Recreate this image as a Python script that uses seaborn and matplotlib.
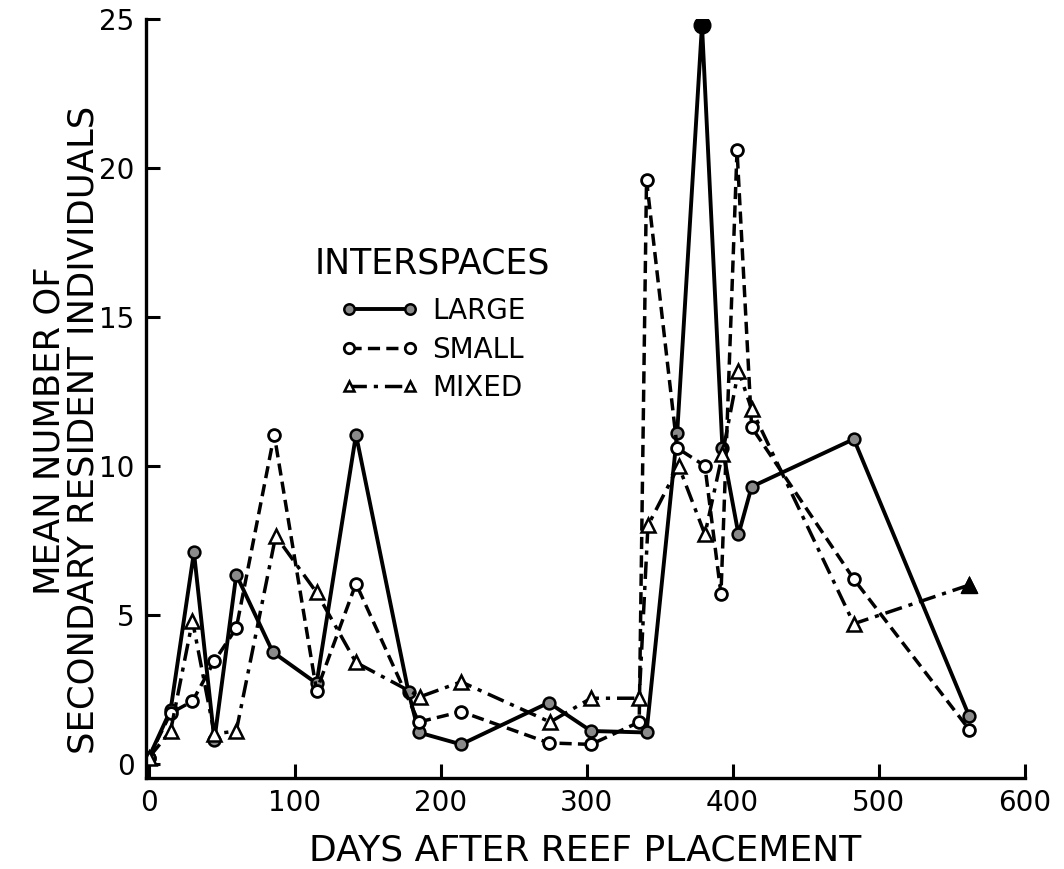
import matplotlib
matplotlib.use("Agg")
import matplotlib.pyplot as plt
from matplotlib.lines import Line2D
import seaborn as sns
import pandas as pd

# Secondary resident counts by interspace size
days_large = [0, 15, 31, 45, 60, 85, 115, 142, 178, 185, 214, 274, 303, 341, 362, 379, 393, 404, 413, 483, 562]
large = [0.2, 1.8, 7.1, 0.8, 6.35, 3.75, 2.7, 11.05, 2.4, 1.05, 0.65, 2.05, 1.1, 1.05, 11.1, 24.8, 10.6, 7.7, 9.3, 10.9, 1.6]

days_small = [0, 15, 30, 45, 60, 86, 115, 142, 185, 214, 274, 303, 336, 341, 362, 381, 392, 403, 413, 483, 562]
small = [0.2, 1.7, 2.1, 3.45, 4.55, 11.05, 2.45, 6.05, 1.4, 1.75, 0.7, 0.65, 1.4, 19.6, 10.6, 10.0, 5.7, 20.6, 11.3, 6.2, 1.15]

days_mixed = [0, 15, 30, 45, 60, 87, 115, 142, 186, 214, 275, 303, 336, 342, 363, 381, 393, 404, 413, 483, 562]
mixed = [0.2, 1.1, 4.8, 1.0, 1.1, 7.65, 5.75, 3.4, 2.25, 2.75, 1.4, 2.2, 2.2, 8.0, 10.0, 7.7, 10.4, 13.2, 11.9, 4.7, 6.0]

x_ticks = [0, 100, 200, 300, 400, 500, 600]
y_ticks = [0, 5, 10, 15, 20, 25]
series_names = ["LARGE", "SMALL", "MIXED"]

sns.set_style("ticks")
plt.rcParams["font.family"] = ["DejaVu Sans"]
plt.rcParams["text.color"] = "black"
plt.rcParams["axes.labelcolor"] = "black"

fig = plt.figure(figsize=(10.64, 8.69), dpi=100)
ax = fig.add_axes([0.137, 0.105, 0.826, 0.873])

ink = "black"
grey = "#8a8a8a"

df_large = pd.DataFrame({"day": days_large, "n": large})
df_small = pd.DataFrame({"day": days_small, "n": small})
df_mixed = pd.DataFrame({"day": days_mixed, "n": mixed})

style_large = dict(color=ink, lw=2.8, marker="o", markersize=8.5,
                   markerfacecolor=grey, markeredgecolor=ink, markeredgewidth=1.8)
style_small = dict(color=ink, lw=2.5, marker="o", markersize=8.5,
                   markerfacecolor="white", markeredgecolor=ink, markeredgewidth=2.0)
style_mixed = dict(color=ink, lw=2.5, marker="^", markersize=9.5,
                   markerfacecolor="white", markeredgecolor=ink, markeredgewidth=1.8)

sns.lineplot(data=df_large, x="day", y="n", ax=ax, estimator=None, sort=False,
             **style_large)
sns.lineplot(data=df_small, x="day", y="n", ax=ax, estimator=None, sort=False,
             **style_small)
sns.lineplot(data=df_mixed, x="day", y="n", ax=ax, estimator=None, sort=False,
             **style_mixed)

# dash patterns
dash_small = [3.5, 1.8]
dash_mixed = [5, 2, 1.2, 2]
ax.lines[1].set_dashes(dash_small)
ax.lines[2].set_dashes(dash_mixed)

# highlighted points: large peak and last mixed sample
ipk = large.index(max(large))
ax.plot([days_large[ipk]], [large[ipk]], marker="o", markersize=12,
        color=ink, linestyle="none", zorder=5)
ax.plot([days_mixed[-1]], [mixed[-1]], marker="^", markersize=12,
        color=ink, linestyle="none", zorder=5)

ax.set_xlim(-2, 600)
ax.set_ylim(-0.47, 25)
ax.set_xticks(x_ticks)
ax.set_yticks(y_ticks)
ax.tick_params(direction="in", length=10, width=2.2, labelsize=20, pad=8, colors=ink)
for side in ["top", "right"]:
    ax.spines[side].set_visible(False)
for side in ["left", "bottom"]:
    ax.spines[side].set_linewidth(2.4)
    ax.spines[side].set_color(ink)

ax.set_xlabel("DAYS AFTER REEF PLACEMENT", fontsize=26, labelpad=12)
ax.set_ylabel("MEAN NUMBER OF\nSECONDARY RESIDENT INDIVIDUALS", fontsize=25.5,
              linespacing=1.0)
ax.yaxis.set_label_coords(-0.052, 0.458)

handles = [
    Line2D([], [], **style_large),
    Line2D([], [], dashes=dash_small, **style_small),
    Line2D([], [], dashes=dash_mixed, **style_mixed),
]
for h in handles:
    h.set_markersize(7.5)
leg = ax.legend(handles, series_names, title="INTERSPACES", loc="upper left",
                bbox_to_anchor=(0.18, 0.715), frameon=False, numpoints=2,
                handlelength=2.8, fontsize=20, title_fontsize=25,
                labelspacing=0.38, handletextpad=0.5, borderaxespad=0)
leg._legend_box.sep = 12

fig.savefig("out.png", dpi=100, facecolor="white")
